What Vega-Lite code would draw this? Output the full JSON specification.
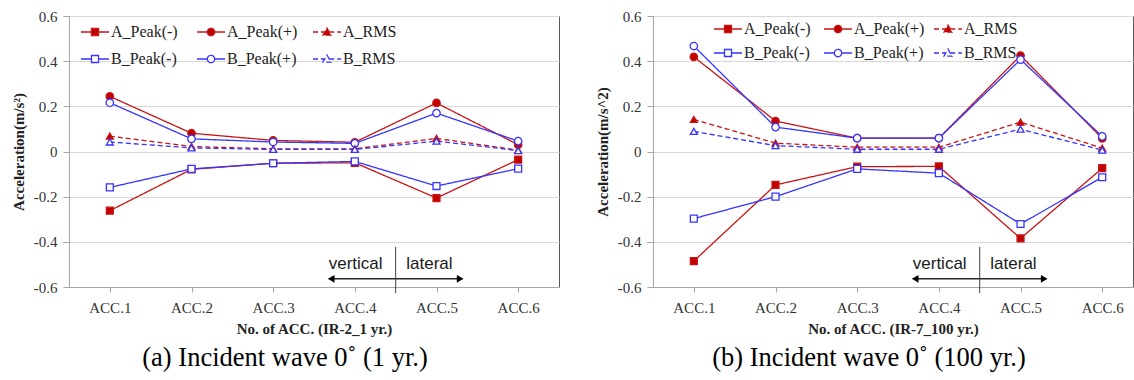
{
  "$schema": "https://vega.github.io/schema/vega-lite/v6.json",
  "padding": {"left": 10, "top": 8, "right": 0, "bottom": 0},
  "background": "white",
  "spacing": 34,
  "resolve": {
    "scale": {"color": "independent", "fill": "independent", "shape": "independent", "strokeDash": "independent"},
    "legend": {"color": "independent", "fill": "independent", "shape": "independent", "strokeDash": "independent"}
  },
  "datasets": {
    "acc": [
      {"p":"a","s":"A_Peak(-)","acc":1,"v":-0.262},{"p":"a","s":"A_Peak(-)","acc":2,"v":-0.079},{"p":"a","s":"A_Peak(-)","acc":3,"v":-0.052},{"p":"a","s":"A_Peak(-)","acc":4,"v":-0.05},{"p":"a","s":"A_Peak(-)","acc":5,"v":-0.206},{"p":"a","s":"A_Peak(-)","acc":6,"v":-0.036},
      {"p":"a","s":"A_Peak(+)","acc":1,"v":0.244},{"p":"a","s":"A_Peak(+)","acc":2,"v":0.081},{"p":"a","s":"A_Peak(+)","acc":3,"v":0.049},{"p":"a","s":"A_Peak(+)","acc":4,"v":0.041},{"p":"a","s":"A_Peak(+)","acc":5,"v":0.215},{"p":"a","s":"A_Peak(+)","acc":6,"v":0.03},
      {"p":"a","s":"A_RMS","acc":1,"v":0.068},{"p":"a","s":"A_RMS","acc":2,"v":0.022},{"p":"a","s":"A_RMS","acc":3,"v":0.012},{"p":"a","s":"A_RMS","acc":4,"v":0.012},{"p":"a","s":"A_RMS","acc":5,"v":0.058},{"p":"a","s":"A_RMS","acc":6,"v":0.006},
      {"p":"a","s":"B_Peak(-)","acc":1,"v":-0.159},{"p":"a","s":"B_Peak(-)","acc":2,"v":-0.077},{"p":"a","s":"B_Peak(-)","acc":3,"v":-0.052},{"p":"a","s":"B_Peak(-)","acc":4,"v":-0.044},{"p":"a","s":"B_Peak(-)","acc":5,"v":-0.153},{"p":"a","s":"B_Peak(-)","acc":6,"v":-0.076},
      {"p":"a","s":"B_Peak(+)","acc":1,"v":0.216},{"p":"a","s":"B_Peak(+)","acc":2,"v":0.056},{"p":"a","s":"B_Peak(+)","acc":3,"v":0.042},{"p":"a","s":"B_Peak(+)","acc":4,"v":0.036},{"p":"a","s":"B_Peak(+)","acc":5,"v":0.17},{"p":"a","s":"B_Peak(+)","acc":6,"v":0.046},
      {"p":"a","s":"B_RMS","acc":1,"v":0.042},{"p":"a","s":"B_RMS","acc":2,"v":0.016},{"p":"a","s":"B_RMS","acc":3,"v":0.009},{"p":"a","s":"B_RMS","acc":4,"v":0.009},{"p":"a","s":"B_RMS","acc":5,"v":0.046},{"p":"a","s":"B_RMS","acc":6,"v":0.004},
      {"p":"b","s":"A_Peak(-)","acc":1,"v":-0.485},{"p":"b","s":"A_Peak(-)","acc":2,"v":-0.148},{"p":"b","s":"A_Peak(-)","acc":3,"v":-0.067},{"p":"b","s":"A_Peak(-)","acc":4,"v":-0.066},{"p":"b","s":"A_Peak(-)","acc":5,"v":-0.385},{"p":"b","s":"A_Peak(-)","acc":6,"v":-0.074},
      {"p":"b","s":"A_Peak(+)","acc":1,"v":0.419},{"p":"b","s":"A_Peak(+)","acc":2,"v":0.135},{"p":"b","s":"A_Peak(+)","acc":3,"v":0.059},{"p":"b","s":"A_Peak(+)","acc":4,"v":0.059},{"p":"b","s":"A_Peak(+)","acc":5,"v":0.425},{"p":"b","s":"A_Peak(+)","acc":6,"v":0.058},
      {"p":"b","s":"A_RMS","acc":1,"v":0.142},{"p":"b","s":"A_RMS","acc":2,"v":0.037},{"p":"b","s":"A_RMS","acc":3,"v":0.019},{"p":"b","s":"A_RMS","acc":4,"v":0.019},{"p":"b","s":"A_RMS","acc":5,"v":0.13},{"p":"b","s":"A_RMS","acc":6,"v":0.015},
      {"p":"b","s":"B_Peak(-)","acc":1,"v":-0.297},{"p":"b","s":"B_Peak(-)","acc":2,"v":-0.2},{"p":"b","s":"B_Peak(-)","acc":3,"v":-0.077},{"p":"b","s":"B_Peak(-)","acc":4,"v":-0.096},{"p":"b","s":"B_Peak(-)","acc":5,"v":-0.321},{"p":"b","s":"B_Peak(-)","acc":6,"v":-0.114},
      {"p":"b","s":"B_Peak(+)","acc":1,"v":0.467},{"p":"b","s":"B_Peak(+)","acc":2,"v":0.108},{"p":"b","s":"B_Peak(+)","acc":3,"v":0.059},{"p":"b","s":"B_Peak(+)","acc":4,"v":0.059},{"p":"b","s":"B_Peak(+)","acc":5,"v":0.407},{"p":"b","s":"B_Peak(+)","acc":6,"v":0.067},
      {"p":"b","s":"B_RMS","acc":1,"v":0.089},{"p":"b","s":"B_RMS","acc":2,"v":0.026},{"p":"b","s":"B_RMS","acc":3,"v":0.01},{"p":"b","s":"B_RMS","acc":4,"v":0.01},{"p":"b","s":"B_RMS","acc":5,"v":0.099},{"p":"b","s":"B_RMS","acc":6,"v":0.006}
    ],
    "arrow": [{"acc": 3.7, "acc2": 5.3, "v": -0.564}],
    "divider": [{"acc": 4.5, "v": -0.422, "v2": -0.627}],
    "headL": [{"acc": 3.71, "v": -0.564}],
    "headR": [{"acc": 5.29, "v": -0.564}],
    "txtL": [{"acc": 4.34, "v": -0.521, "t": "vertical"}],
    "txtR": [{"acc": 4.63, "v": -0.521, "t": "lateral"}]
  },
  "hconcat": [
    {
      "width": 490,
      "height": 271,
      "title": {"text": "(a) Incident wave 0˚ (1 yr.)", "orient": "bottom", "anchor": "middle", "dx": -29, "offset": 9, "font": "Liberation Serif", "fontSize": 26.5, "fontWeight": "normal", "color": "#000000"},
      "layer": [
        {
          "data": {"name": "acc"},
          "transform": [{"filter": "datum.p == 'a'"}],
          "mark": {"type": "line", "strokeWidth": 1.3},
          "encoding": {
            "x": {"field": "acc", "type": "quantitative", "scale": {"domain": [0.5, 6.5], "nice": false, "zero": false}, "axis": {"title": "No. of ACC. (IR-2_1 yr.)", "values": [1,2,3,4,5,6], "labelExpr": "'ACC.' + datum.value"}},
            "y": {"field": "v", "type": "quantitative", "scale": {"domain": [-0.6, 0.6], "nice": false}, "axis": {"title": "Acceleration(m/s²)", "values": [-0.6,-0.4,-0.2,0,0.2,0.4,0.6], "labelExpr": "'' + datum.value"}},
            "color": {"field": "s", "type": "nominal", "scale": {"domain": ["A_Peak(-)","A_Peak(+)","A_RMS","B_Peak(-)","B_Peak(+)","B_RMS"], "range": ["#c81414","#c81414","#c81414","#3535ff","#3535ff","#3535ff"]}},
            "strokeDash": {"field": "s", "type": "nominal", "scale": {"domain": ["A_Peak(-)","A_Peak(+)","A_RMS","B_Peak(-)","B_Peak(+)","B_RMS"], "range": [[1,0],[1,0],[5,3],[1,0],[1,0],[5,3]]}}
          }
        },
        {
          "data": {"name": "acc"},
          "transform": [{"filter": "datum.p == 'a' && indexof(datum.s, '(-)') >= 0"}],
          "mark": {"type": "point", "shape": "square", "filled": false, "opacity": 1, "strokeWidth": 1.3, "size": 48},
          "encoding": {
            "x": {"field": "acc", "type": "quantitative"},
            "y": {"field": "v", "type": "quantitative"},
            "color": {"field": "s", "type": "nominal"},
            "fill": {"field": "s", "type": "nominal", "scale": {"domain": ["A_Peak(-)","A_Peak(+)","A_RMS","B_Peak(-)","B_Peak(+)","B_RMS"], "range": ["#c00000","#c00000","#c00000","#ffffff","#ffffff","#ffffff"]}}
          }
        },
        {
          "data": {"name": "acc"},
          "transform": [{"filter": "datum.p == 'a' && indexof(datum.s, '(+)') >= 0"}],
          "mark": {"type": "point", "shape": "circle", "filled": false, "opacity": 1, "strokeWidth": 1.3, "size": 55},
          "encoding": {
            "x": {"field": "acc", "type": "quantitative"},
            "y": {"field": "v", "type": "quantitative"},
            "color": {"field": "s", "type": "nominal"},
            "fill": {"field": "s", "type": "nominal"}
          }
        },
        {
          "data": {"name": "acc"},
          "transform": [{"filter": "datum.p == 'a' && indexof(datum.s, 'RMS') >= 0"}],
          "mark": {"type": "point", "shape": "triangle-up", "filled": false, "opacity": 1, "strokeWidth": 1.3, "size": 48},
          "encoding": {
            "x": {"field": "acc", "type": "quantitative"},
            "y": {"field": "v", "type": "quantitative"},
            "color": {"field": "s", "type": "nominal"},
            "fill": {"field": "s", "type": "nominal"}
          }
        },
        {
          "data": {"name": "acc"},
          "transform": [{"filter": "datum.p == 'none'"}],
          "mark": {"type": "point", "filled": false, "opacity": 1, "strokeWidth": 1.3},
          "encoding": {
            "x": {"field": "acc", "type": "quantitative"},
            "y": {"field": "v", "type": "quantitative"},
            "shape": {"field": "s", "type": "nominal", "scale": {"domain": ["A_Peak(-)","A_Peak(+)","A_RMS","B_Peak(-)","B_Peak(+)","B_RMS"], "range": ["M-1.75,0H-0.44M0.44,0H1.75M-0.44,-0.44H0.44V0.44H-0.44Z","M-1.75,0H-0.46M0.46,0H1.75M-0.46,0A0.46,0.46 0 1,0 0.46,0A0.46,0.46 0 1,0 -0.46,0Z","M-1.75,0H-0.28M0.28,0H1.75M0,-0.5L0.5,0.4H-0.5Z","M-1.75,0H-0.44M0.44,0H1.75M-0.44,-0.44H0.44V0.44H-0.44Z","M-1.75,0H-0.46M0.46,0H1.75M-0.46,0A0.46,0.46 0 1,0 0.46,0A0.46,0.46 0 1,0 -0.46,0Z","M-1.75,0H-0.28M0.28,0H1.75M0,-0.5L0.5,0.4H-0.5Z"]}, "legend": {"orient": "none", "legendX": 17, "legendY": 7, "direction": "horizontal", "columns": 3, "title": null, "gridAlign": "all", "columnPadding": 12, "rowPadding": 10, "padding": 0, "symbolSize": 256, "symbolStrokeWidth": 1.3, "labelOffset": 7, "labelFont": "Liberation Serif", "labelFontSize": 16, "labelColor": "#222222"}},
            "color": {"field": "s", "type": "nominal", "legend": {"orient": "none", "legendX": 17, "legendY": 7, "direction": "horizontal", "columns": 3, "title": null, "gridAlign": "all", "columnPadding": 12, "rowPadding": 10, "padding": 0, "symbolSize": 256, "symbolStrokeWidth": 1.3, "labelOffset": 7, "labelFont": "Liberation Serif", "labelFontSize": 16, "labelColor": "#222222"}},
            "fill": {"field": "s", "type": "nominal", "legend": {"orient": "none", "legendX": 17, "legendY": 7, "direction": "horizontal", "columns": 3, "title": null, "gridAlign": "all", "columnPadding": 12, "rowPadding": 10, "padding": 0, "symbolSize": 256, "symbolStrokeWidth": 1.3, "labelOffset": 7, "labelFont": "Liberation Serif", "labelFontSize": 16, "labelColor": "#222222"}},
            "strokeDash": {"field": "s", "type": "nominal", "legend": {"orient": "none", "legendX": 17, "legendY": 7, "direction": "horizontal", "columns": 3, "title": null, "gridAlign": "all", "columnPadding": 12, "rowPadding": 10, "padding": 0, "symbolSize": 256, "symbolStrokeWidth": 1.3, "labelOffset": 7, "labelFont": "Liberation Serif", "labelFontSize": 16, "labelColor": "#222222"}}
          }
        },
        {"data": {"name": "arrow"}, "mark": {"type": "rule", "color": "#262626", "strokeWidth": 1.5}, "encoding": {"x": {"field": "acc", "type": "quantitative"}, "x2": {"field": "acc2"}, "y": {"field": "v", "type": "quantitative"}}},
        {"data": {"name": "divider"}, "mark": {"type": "rule", "color": "#404040", "strokeWidth": 1}, "encoding": {"x": {"field": "acc", "type": "quantitative"}, "y": {"field": "v", "type": "quantitative"}, "y2": {"field": "v2"}}},
        {"data": {"name": "headL"}, "mark": {"type": "point", "shape": "triangle-left", "filled": true, "color": "#000000", "size": 60, "opacity": 1}, "encoding": {"x": {"field": "acc", "type": "quantitative"}, "y": {"field": "v", "type": "quantitative"}}},
        {"data": {"name": "headR"}, "mark": {"type": "point", "shape": "triangle-right", "filled": true, "color": "#000000", "size": 60, "opacity": 1}, "encoding": {"x": {"field": "acc", "type": "quantitative"}, "y": {"field": "v", "type": "quantitative"}}},
        {"data": {"name": "txtL"}, "mark": {"type": "text", "align": "right", "baseline": "alphabetic", "font": "Liberation Sans", "fontSize": 17, "color": "#1a1a1a"}, "encoding": {"x": {"field": "acc", "type": "quantitative"}, "y": {"field": "v", "type": "quantitative"}, "text": {"field": "t"}}},
        {"data": {"name": "txtR"}, "mark": {"type": "text", "align": "left", "baseline": "alphabetic", "font": "Liberation Sans", "fontSize": 17, "color": "#1a1a1a"}, "encoding": {"x": {"field": "acc", "type": "quantitative"}, "y": {"field": "v", "type": "quantitative"}, "text": {"field": "t"}}}
      ]
    },
    {
      "width": 480,
      "height": 271,
      "title": {"text": "(b) Incident wave 0˚ (100 yr.)", "orient": "bottom", "anchor": "middle", "dx": -24, "offset": 9, "font": "Liberation Serif", "fontSize": 26.5, "fontWeight": "normal", "color": "#000000"},
      "layer": [
        {
          "data": {"name": "acc"},
          "transform": [{"filter": "datum.p == 'b'"}],
          "mark": {"type": "line", "strokeWidth": 1.3},
          "encoding": {
            "x": {"field": "acc", "type": "quantitative", "scale": {"domain": [0.5, 6.377], "nice": false, "zero": false}, "axis": {"title": "No. of ACC. (IR-7_100 yr.)", "values": [1,2,3,4,5,6], "labelExpr": "'ACC.' + datum.value"}},
            "y": {"field": "v", "type": "quantitative", "scale": {"domain": [-0.6, 0.6], "nice": false}, "axis": {"title": "Acceleration(m/s^2)", "values": [-0.6,-0.4,-0.2,0,0.2,0.4,0.6], "labelExpr": "'' + datum.value"}},
            "color": {"field": "s", "type": "nominal", "scale": {"domain": ["A_Peak(-)","A_Peak(+)","A_RMS","B_Peak(-)","B_Peak(+)","B_RMS"], "range": ["#c81414","#c81414","#c81414","#3535ff","#3535ff","#3535ff"]}},
            "strokeDash": {"field": "s", "type": "nominal", "scale": {"domain": ["A_Peak(-)","A_Peak(+)","A_RMS","B_Peak(-)","B_Peak(+)","B_RMS"], "range": [[1,0],[1,0],[5,3],[1,0],[1,0],[5,3]]}}
          }
        },
        {
          "data": {"name": "acc"},
          "transform": [{"filter": "datum.p == 'b' && indexof(datum.s, '(-)') >= 0"}],
          "mark": {"type": "point", "shape": "square", "filled": false, "opacity": 1, "strokeWidth": 1.3, "size": 48},
          "encoding": {
            "x": {"field": "acc", "type": "quantitative"},
            "y": {"field": "v", "type": "quantitative"},
            "color": {"field": "s", "type": "nominal"},
            "fill": {"field": "s", "type": "nominal", "scale": {"domain": ["A_Peak(-)","A_Peak(+)","A_RMS","B_Peak(-)","B_Peak(+)","B_RMS"], "range": ["#c00000","#c00000","#c00000","#ffffff","#ffffff","#ffffff"]}}
          }
        },
        {
          "data": {"name": "acc"},
          "transform": [{"filter": "datum.p == 'b' && indexof(datum.s, '(+)') >= 0"}],
          "mark": {"type": "point", "shape": "circle", "filled": false, "opacity": 1, "strokeWidth": 1.3, "size": 55},
          "encoding": {
            "x": {"field": "acc", "type": "quantitative"},
            "y": {"field": "v", "type": "quantitative"},
            "color": {"field": "s", "type": "nominal"},
            "fill": {"field": "s", "type": "nominal"}
          }
        },
        {
          "data": {"name": "acc"},
          "transform": [{"filter": "datum.p == 'b' && indexof(datum.s, 'RMS') >= 0"}],
          "mark": {"type": "point", "shape": "triangle-up", "filled": false, "opacity": 1, "strokeWidth": 1.3, "size": 48},
          "encoding": {
            "x": {"field": "acc", "type": "quantitative"},
            "y": {"field": "v", "type": "quantitative"},
            "color": {"field": "s", "type": "nominal"},
            "fill": {"field": "s", "type": "nominal"}
          }
        },
        {
          "data": {"name": "acc"},
          "transform": [{"filter": "datum.p == 'none'"}],
          "mark": {"type": "point", "filled": false, "opacity": 1, "strokeWidth": 1.3},
          "encoding": {
            "x": {"field": "acc", "type": "quantitative"},
            "y": {"field": "v", "type": "quantitative"},
            "shape": {"field": "s", "type": "nominal", "scale": {"domain": ["A_Peak(-)","A_Peak(+)","A_RMS","B_Peak(-)","B_Peak(+)","B_RMS"], "range": ["M-1.75,0H-0.44M0.44,0H1.75M-0.44,-0.44H0.44V0.44H-0.44Z","M-1.75,0H-0.46M0.46,0H1.75M-0.46,0A0.46,0.46 0 1,0 0.46,0A0.46,0.46 0 1,0 -0.46,0Z","M-1.75,0H-0.28M0.28,0H1.75M0,-0.5L0.5,0.4H-0.5Z","M-1.75,0H-0.44M0.44,0H1.75M-0.44,-0.44H0.44V0.44H-0.44Z","M-1.75,0H-0.46M0.46,0H1.75M-0.46,0A0.46,0.46 0 1,0 0.46,0A0.46,0.46 0 1,0 -0.46,0Z","M-1.75,0H-0.28M0.28,0H1.75M0,-0.5L0.5,0.4H-0.5Z"]}, "legend": {"orient": "none", "legendX": 66, "legendY": 4, "direction": "horizontal", "columns": 3, "title": null, "gridAlign": "all", "columnPadding": 6, "rowPadding": 7, "padding": 0, "symbolSize": 256, "symbolStrokeWidth": 1.3, "labelOffset": 7, "labelFont": "Liberation Serif", "labelFontSize": 16, "labelColor": "#222222"}},
            "color": {"field": "s", "type": "nominal", "legend": {"orient": "none", "legendX": 66, "legendY": 4, "direction": "horizontal", "columns": 3, "title": null, "gridAlign": "all", "columnPadding": 6, "rowPadding": 7, "padding": 0, "symbolSize": 256, "symbolStrokeWidth": 1.3, "labelOffset": 7, "labelFont": "Liberation Serif", "labelFontSize": 16, "labelColor": "#222222"}},
            "fill": {"field": "s", "type": "nominal", "legend": {"orient": "none", "legendX": 66, "legendY": 4, "direction": "horizontal", "columns": 3, "title": null, "gridAlign": "all", "columnPadding": 6, "rowPadding": 7, "padding": 0, "symbolSize": 256, "symbolStrokeWidth": 1.3, "labelOffset": 7, "labelFont": "Liberation Serif", "labelFontSize": 16, "labelColor": "#222222"}},
            "strokeDash": {"field": "s", "type": "nominal", "legend": {"orient": "none", "legendX": 66, "legendY": 4, "direction": "horizontal", "columns": 3, "title": null, "gridAlign": "all", "columnPadding": 6, "rowPadding": 7, "padding": 0, "symbolSize": 256, "symbolStrokeWidth": 1.3, "labelOffset": 7, "labelFont": "Liberation Serif", "labelFontSize": 16, "labelColor": "#222222"}}
          }
        },
        {"data": {"name": "arrow"}, "mark": {"type": "rule", "color": "#262626", "strokeWidth": 1.5}, "encoding": {"x": {"field": "acc", "type": "quantitative"}, "x2": {"field": "acc2"}, "y": {"field": "v", "type": "quantitative"}}},
        {"data": {"name": "divider"}, "mark": {"type": "rule", "color": "#404040", "strokeWidth": 1}, "encoding": {"x": {"field": "acc", "type": "quantitative"}, "y": {"field": "v", "type": "quantitative"}, "y2": {"field": "v2"}}},
        {"data": {"name": "headL"}, "mark": {"type": "point", "shape": "triangle-left", "filled": true, "color": "#000000", "size": 60, "opacity": 1}, "encoding": {"x": {"field": "acc", "type": "quantitative"}, "y": {"field": "v", "type": "quantitative"}}},
        {"data": {"name": "headR"}, "mark": {"type": "point", "shape": "triangle-right", "filled": true, "color": "#000000", "size": 60, "opacity": 1}, "encoding": {"x": {"field": "acc", "type": "quantitative"}, "y": {"field": "v", "type": "quantitative"}}},
        {"data": {"name": "txtL"}, "mark": {"type": "text", "align": "right", "baseline": "alphabetic", "font": "Liberation Sans", "fontSize": 17, "color": "#1a1a1a"}, "encoding": {"x": {"field": "acc", "type": "quantitative"}, "y": {"field": "v", "type": "quantitative"}, "text": {"field": "t"}}},
        {"data": {"name": "txtR"}, "mark": {"type": "text", "align": "left", "baseline": "alphabetic", "font": "Liberation Sans", "fontSize": 17, "color": "#1a1a1a"}, "encoding": {"x": {"field": "acc", "type": "quantitative"}, "y": {"field": "v", "type": "quantitative"}, "text": {"field": "t"}}}
      ]
    }
  ],
  "config": {
    "font": "Liberation Serif",
    "view": {"stroke": "#595959", "strokeWidth": 1},
    "legend": {"labelFont": "Liberation Serif", "labelFontSize": 16},
    "title": {"font": "Liberation Serif"},
    "axis": {"labelFont": "Liberation Serif", "titleFont": "Liberation Serif", "labelFontSize": 15, "titleFontSize": 15, "titleFontWeight": "bold", "labelColor": "#333333", "titleColor": "#222222", "domainColor": "#a6a6a6", "tickColor": "#a6a6a6"},
    "axisY": {"grid": true, "gridColor": "#d9d9d9", "gridWidth": 1.2, "tickSize": 6, "labelPadding": 6, "titlePadding": 7},
    "axisX": {"grid": false, "tickSize": 5, "labelPadding": 8, "titlePadding": 6, "labelAngle": 0}
  }
}
